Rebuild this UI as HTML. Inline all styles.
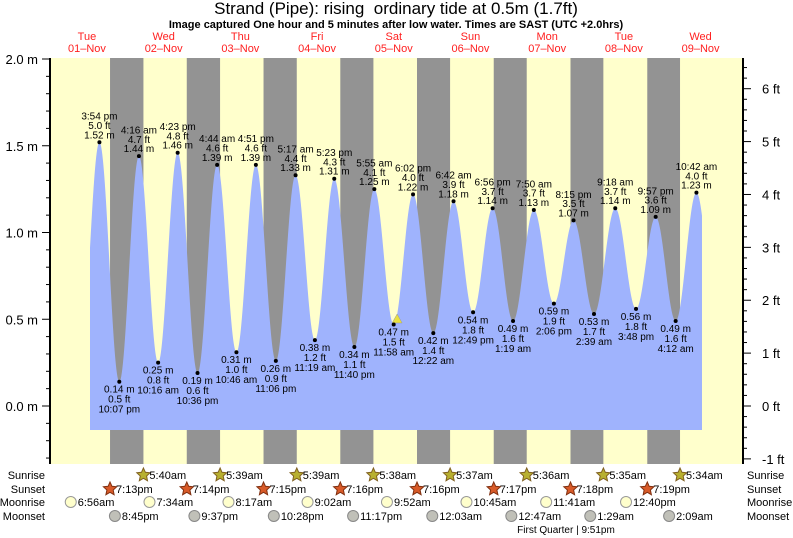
<!DOCTYPE html>
<html><head><meta charset="utf-8"><style>
body{margin:0;background:#fff}
svg{display:block;font-family:"Liberation Sans",sans-serif}
</style></head><body>
<svg id="s" width="793" height="538" viewBox="0 0 793 538"></svg>
<script>
const S=document.getElementById('s');let h='';
const X0=48.6,PX=3.196,TOP=58,BOT=464,L=50,R=743;
const X=t=>X0+t*PX, Y=m=>406-173.5*m;
h+=`<rect x="${L}" y="${TOP}" width="${R-L}" height="${BOT-TOP}" fill="#ffffcc"/>`;
const sunset=[19.22,19.23,19.25,19.27,19.27,19.28,19.3,19.32],sunrise=[5.67,5.65,5.65,5.63,5.62,5.6,5.58,5.57];
for(let d=0;d<8;d++){const a=X(d*24+sunset[d]),b=X((d+1)*24+sunrise[d]);h+=`<rect x="${a}" y="${TOP}" width="${b-a}" height="${BOT-TOP}" fill="#939393"/>`;}
const ex=[[9.7,0.2],[15.9,1.52],[22.12,.14],[28.27,1.44],[34.27,.25],[40.38,1.46],[46.6,.19],[52.73,1.39],[58.77,.31],[64.85,1.39],[71.1,.26],[77.28,1.33],[83.32,.38],[89.38,1.31],[95.67,.34],[101.92,1.25],[107.97,.47],[114.03,1.22],[120.37,.42],[126.7,1.18],[132.82,.54],[138.93,1.14],[145.32,.49],[151.83,1.13],[158.1,.59],[164.25,1.07],[170.65,.53],[177.3,1.14],[183.8,.56],[189.95,1.09],[196.2,.49],[202.7,1.23],[208.9,0.5]];
function tide(t){for(let i=0;i<ex.length-1;i++){const[a,ha]=ex[i],[b,hb]=ex[i+1];if(t>=a&&t<=b){const f=(1-Math.cos(Math.PI*(t-a)/(b-a)))/2;return ha+(hb-ha)*f;}}return .5}
let t0=(90-X0)/PX,t1=(702-X0)/PX,p=`M${X(t0)},430`;
for(let t=t0;t<=t1;t+=0.05)p+=` L${X(t).toFixed(2)},${Y(tide(t)).toFixed(2)}`;
p+=` L${X(t1)},${Y(tide(t1))} L${X(t1)},430Z`;
h+=`<path d="${p}" fill="#9fb3fd"/>`;
h+=`<line x1="${L}" y1="${TOP}" x2="${L}" y2="${BOT}" stroke="#000" stroke-width="2"/><line x1="${R}" y1="${TOP}" x2="${R}" y2="${BOT}" stroke="#000" stroke-width="2"/>`;
for(let m=-0.3;m<=2.001;m+=0.1){const y=Y(m);if(y<TOP-1)continue;const maj=Math.abs(m*2-Math.round(m*2))<.01;h+=`<line x1="${maj?42:46}" y1="${y}" x2="${L}" y2="${y}" stroke="#000"/>`;if(maj)h+=`<text x="38" y="${y+5}" font-size="13" text-anchor="end">${m.toFixed(1)} m</text>`;}
for(let f=-1;f<=6.61;f+=0.2){const y=Y(f*0.3048);if(y>BOT+1||y<TOP)continue;const maj=Math.abs(f-Math.round(f))<.01;h+=`<line x1="${R}" y1="${y}" x2="${maj?R+8:R+4}" y2="${y}" stroke="#000"/>`;if(maj)h+=`<text x="762" y="${y+5}" font-size="13">${Math.round(f)} ft</text>`;}
const lab=[["3:54 pm","5.0 ft","1.52 m"],["0.14 m","0.5 ft","10:07 pm"],["4:16 am","4.7 ft","1.44 m"],["0.25 m","0.8 ft","10:16 am"],["4:23 pm","4.8 ft","1.46 m"],["0.19 m","0.6 ft","10:36 pm"],["4:44 am","4.6 ft","1.39 m"],["0.31 m","1.0 ft","10:46 am"],["4:51 pm","4.6 ft","1.39 m"],["0.26 m","0.9 ft","11:06 pm"],["5:17 am","4.4 ft","1.33 m"],["0.38 m","1.2 ft","11:19 am"],["5:23 pm","4.3 ft","1.31 m"],["0.34 m","1.1 ft","11:40 pm"],["5:55 am","4.1 ft","1.25 m"],["0.47 m","1.5 ft","11:58 am"],["6:02 pm","4.0 ft","1.22 m"],["0.42 m","1.4 ft","12:22 am"],["6:42 am","3.9 ft","1.18 m"],["0.54 m","1.8 ft","12:49 pm"],["6:56 pm","3.7 ft","1.14 m"],["0.49 m","1.6 ft","1:19 am"],["7:50 am","3.7 ft","1.13 m"],["0.59 m","1.9 ft","2:06 pm"],["8:15 pm","3.5 ft","1.07 m"],["0.53 m","1.7 ft","2:39 am"],["9:18 am","3.7 ft","1.14 m"],["0.56 m","1.8 ft","3:48 pm"],["9:57 pm","3.6 ft","1.09 m"],["0.49 m","1.6 ft","4:12 am"],["10:42 am","4.0 ft","1.23 m"]];
h+=`<polygon points="${X(109.05)-5},323 ${X(109.05)+5},323 ${X(109.05)},314" fill="#e8e040" stroke="#999" stroke-width=".5"/>`;
for(let i=0;i<lab.length;i++){const[t,v]=ex[i+1],x=X(t),y=Y(v),hi=i%2==0;h+=`<circle cx="${x}" cy="${y}" r="2" fill="#000"/>`;
 for(let k=0;k<3;k++){const yy=hi?y-4-(2-k)*9.3:y+11+k*10;h+=`<text x="${x}" y="${yy}" font-size="10" text-anchor="middle">${lab[i][k]}</text>`;}}
h+=`<text x="396" y="14" font-size="17" text-anchor="middle" style="white-space:pre">Strand (Pipe): rising  ordinary tide at 0.5m (1.7ft)</text>`;
h+=`<text x="396" y="28" font-size="11" font-weight="bold" text-anchor="middle">Image captured One hour and 5 minutes after low water. Times are SAST (UTC +2.0hrs)</text>`;
const dn=["Tue","Wed","Thu","Fri","Sat","Sun","Mon","Tue","Wed"];
for(let d=0;d<9;d++){const x=X(d*24+12);h+=`<text x="${x}" y="40" font-size="11" fill="#ff2020" text-anchor="middle">${dn[d]}</text><text x="${x}" y="52" font-size="11" fill="#ff2020" text-anchor="middle">0${d+1}–Nov</text>`;}
const rows=["Sunrise","Sunset","Moonrise","Moonset"],ry=[475,489,502,516];
rows.forEach((r,i)=>{h+=`<text x="45" y="${ry[i]+4}" font-size="11" text-anchor="end">${r}</text><text x="747" y="${ry[i]+4}" font-size="11">${r}</text>`;});
function star(cx,cy,fill,st){let pts=[];for(let k=0;k<10;k++){const a=-Math.PI/2+k*Math.PI/5,rr=k%2?3.3:7;pts.push((cx+rr*Math.cos(a)).toFixed(1)+","+(cy+rr*Math.sin(a)).toFixed(1));}return `<polygon points="${pts.join(' ')}" fill="${fill}" stroke="${st}" stroke-width="1"/>`;}
const sr=["5:40am","5:39am","5:39am","5:38am","5:37am","5:36am","5:35am","5:34am"];
sr.forEach((s,i)=>{const x=X((i+1)*24+sunrise[i]);h+=star(x,475,"#b8b030","#806020")+`<text x="${x+6}" y="479" font-size="11">${s}</text>`;});
const ss=["7:13pm","7:14pm","7:15pm","7:16pm","7:16pm","7:17pm","7:18pm","7:19pm"];
ss.forEach((s,i)=>{const x=X(i*24+sunset[i]);h+=star(x,489,"#d85a28","#803010")+`<text x="${x+6}" y="493" font-size="11">${s}</text>`;});
const mr=[[6.93,"6:56am"],[31.57,"7:34am"],[56.28,"8:17am"],[81.03,"9:02am"],[105.87,"9:52am"],[130.75,"10:45am"],[155.68,"11:41am"],[180.67,"12:40pm"]];
mr.forEach(([t,s])=>{const x=X(t);h+=`<circle cx="${x}" cy="502" r="5.5" fill="#ffffcc" stroke="#999"/><text x="${x+7}" y="506" font-size="11">${s}</text>`;});
const ms=[[20.75,"8:45pm"],[45.62,"9:37pm"],[70.47,"10:28pm"],[95.28,"11:17pm"],[120.05,"12:03am"],[144.78,"12:47am"],[169.48,"1:29am"],[194.15,"2:09am"]];
ms.forEach(([t,s])=>{const x=X(t);h+=`<circle cx="${x}" cy="516" r="5.5" fill="#c0c0b8" stroke="#888"/><text x="${x+7}" y="520" font-size="11">${s}</text>`;});
h+=`<text x="566" y="533" font-size="10" text-anchor="middle">First Quarter | 9:51pm</text>`;
S.innerHTML=h;
</script>
</body></html>
